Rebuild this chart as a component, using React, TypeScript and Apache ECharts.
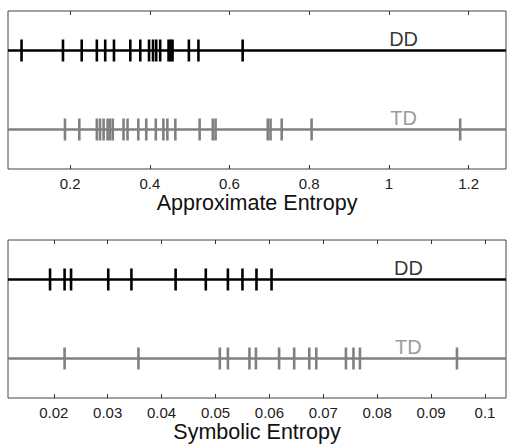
import React, { useEffect, useRef } from "react";
import * as echarts from "echarts";

// Approximate Entropy
const apEnDD = [0.078, 0.182, 0.229, 0.267, 0.288, 0.310, 0.351, 0.376, 0.398, 0.408, 0.416, 0.426, 0.447, 0.452, 0.457, 0.498, 0.522, 0.633];
const apEnTD = [0.187, 0.223, 0.267, 0.275, 0.284, 0.294, 0.300, 0.307, 0.334, 0.344, 0.371, 0.391, 0.415, 0.434, 0.444, 0.464, 0.525, 0.558, 0.565, 0.696, 0.703, 0.731, 0.806, 1.179];
// Symbolic Entropy
const syEnDD = [0.0193, 0.0220, 0.0232, 0.0301, 0.0344, 0.0426, 0.0482, 0.0523, 0.0550, 0.0576, 0.0604];
const syEnTD = [0.0220, 0.0357, 0.0508, 0.0523, 0.0563, 0.0575, 0.0618, 0.0646, 0.0674, 0.0687, 0.0742, 0.0756, 0.0768, 0.0948];

const apEnTicks = [0.2, 0.4, 0.6, 0.8, 1, 1.2];
const syEnTicks = [0.02, 0.03, 0.04, 0.05, 0.06, 0.07, 0.08, 0.09, 0.1];
const apEnRange = [0.044, 1.294];
const syEnRange = [0.0115, 0.1039];
const groupNames = ["DD", "TD"];
const groupY = [0.75, 0.25];

const FONT = "'Liberation Sans', Arial, Helvetica, sans-serif";
const DD_COLOR = "#000000";
const TD_COLOR = "#808080";

export default function App() {
  const ref = useRef<HTMLDivElement>(null);
  useEffect(() => {
    if (!ref.current) return;
    const chart = echarts.init(ref.current, undefined, { renderer: "svg" });
    const fmt = (v: number) => String(+Number(v).toFixed(3));

    const xAxisPair = (gridIndex: number, range: number[], ticks: number[], name: string) => [
      {
        type: "value",
        gridIndex,
        position: "bottom",
        min: range[0],
        max: range[1],
        name,
        nameLocation: "middle",
        nameGap: 21,
        nameTextStyle: { fontFamily: FONT, fontSize: 21.5, color: "#111" },
        axisLine: { show: false },
        axisTick: { show: true, inside: true, length: 4, customValues: ticks, lineStyle: { color: "#333", width: 1 } },
        axisLabel: { show: true, customValues: ticks, formatter: fmt, fontFamily: FONT, fontSize: 15, color: "#222", margin: 7 },
        splitLine: { show: false },
      },
      {
        type: "value",
        gridIndex,
        position: "top",
        min: range[0],
        max: range[1],
        axisLine: { show: false },
        axisTick: { show: true, inside: true, length: 4, customValues: ticks, lineStyle: { color: "#333", width: 1 } },
        axisLabel: { show: false },
        splitLine: { show: false },
      },
    ];

    const panelSeries = (axisIndex: number, range: number[], dd: number[], td: number[], labelX: number) => {
      const groups = [dd, td];
      const colors = [DD_COLOR, TD_COLOR];
      const out: any[] = [];
      groups.forEach((vals, gi) => {
        out.push({
          type: "line",
          xAxisIndex: axisIndex,
          yAxisIndex: axisIndex / 2,
          data: [[range[0], groupY[gi]], [range[1], groupY[gi]]],
          showSymbol: false,
          lineStyle: { color: colors[gi], width: 2.5 },
          silent: true,
          z: 2,
        });
        out.push({
          type: "scatter",
          xAxisIndex: axisIndex,
          yAxisIndex: axisIndex / 2,
          data: vals.map((v) => [v, groupY[gi]]),
          symbol: "rect",
          symbolSize: [2.6, 22],
          itemStyle: { color: colors[gi], opacity: 1 },
          silent: true,
          z: 3,
        });
        out.push({
          type: "scatter",
          xAxisIndex: axisIndex,
          yAxisIndex: axisIndex / 2,
          data: [[labelX, groupY[gi]]],
          symbolSize: 0,
          label: {
            show: true,
            position: "top",
            distance: 2,
            formatter: groupNames[gi],
            fontFamily: FONT,
            fontSize: 20,
            color: colors[gi],
          },
          silent: true,
          z: 4,
        });
      });
      return out;
    };

    chart.setOption({
      animation: false,
      backgroundColor: "#ffffff",
      grid: [
        { left: 8, right: 1, top: 11, height: 158, show: true, borderColor: "#444", borderWidth: 1, backgroundColor: "transparent" },
        { left: 8, right: 1, top: 240, height: 158, show: true, borderColor: "#444", borderWidth: 1, backgroundColor: "transparent" },
      ],
      xAxis: [
        ...xAxisPair(0, apEnRange, apEnTicks, "Approximate Entropy"),
        ...xAxisPair(1, syEnRange, syEnTicks, "Symbolic Entropy"),
      ],
      yAxis: [
        { type: "value", gridIndex: 0, min: 0, max: 1, show: false },
        { type: "value", gridIndex: 1, min: 0, max: 1, show: false },
      ],
      series: [
        ...panelSeries(0, apEnRange, apEnDD, apEnTD, 1.037),
        ...panelSeries(2, syEnRange, syEnDD, syEnTD, 0.0858),
      ],
    });
    return () => chart.dispose();
  }, []);
  return <div ref={ref} style={{ width: 507, height: 444, position: "absolute", left: 0, top: 0 }} />;
}
